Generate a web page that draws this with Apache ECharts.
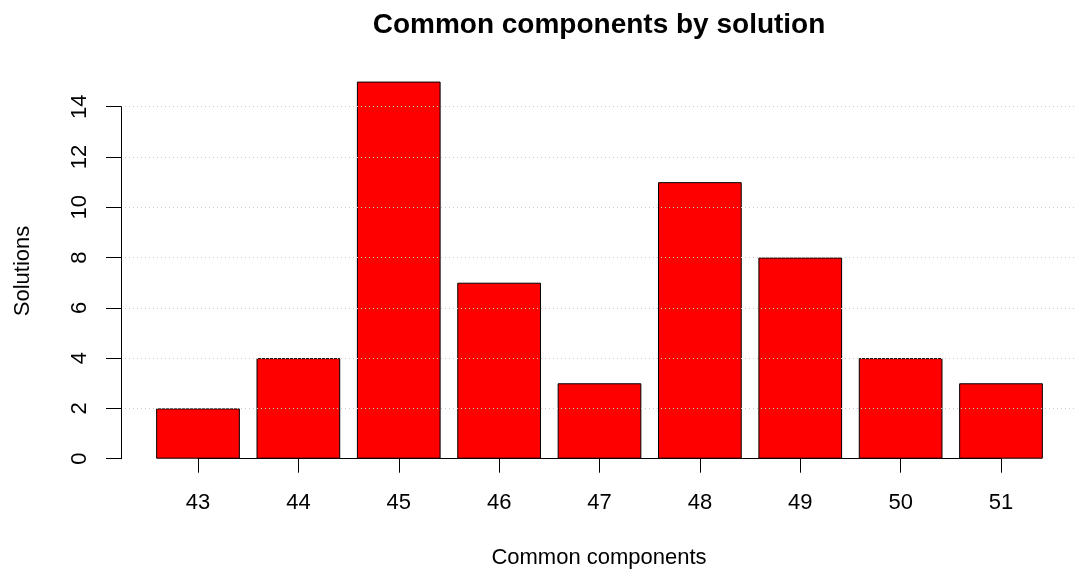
<!DOCTYPE html>
<html>
<head>
<meta charset="utf-8">
<script src="https://cdn.jsdelivr.net/npm/echarts@6/dist/echarts.min.js"></script>
<style>
html,body{margin:0;padding:0;background:#fff;}
#chart{width:1074px;height:572px;}
</style>
</head>
<body>
<div id="chart"></div>
<script>
const categories = ['43', '44', '45', '46', '47', '48', '49', '50', '51'];
const solutions = [2, 4, 15, 7, 3, 11, 8, 4, 3];
const yMin = 0;
const yMax = 14;
const yInterval = 2;
const titleText = 'Common components by solution';
const xName = 'Common components';
const yName = 'Solutions';

const FONT = '"Liberation Sans", Arial, Helvetica, sans-serif';
const chart = echarts.init(document.getElementById('chart'), null, {renderer: 'canvas'});

const option = {
  animation: false,
  backgroundColor: '#ffffff',
  grid: [
    {left: 121, right: 0, top: 106.7, bottom: 113.3},
    {left: 198, right: 73, top: 66.5, bottom: 113.3}
  ],
  xAxis: [
    {type: 'value', gridIndex: 0, show: false, min: 0, max: 1},
    {
      type: 'category', gridIndex: 1, data: categories, boundaryGap: false,
      axisLine: {show: true, lineStyle: {color: '#000', width: 1}},
      axisTick: {show: true, length: 14, lineStyle: {color: '#000', width: 1}},
      axisLabel: {show: true, color: '#000', fontSize: 22, fontFamily: FONT, margin: 33, interval: 0},
      splitLine: {show: false}
    }
  ],
  yAxis: [
    {
      type: 'value', gridIndex: 0, min: yMin, max: yMax, interval: yInterval, z: 10,
      axisLine: {show: true, lineStyle: {color: '#000', width: 1}},
      axisTick: {show: true, length: 15, lineStyle: {color: '#000', width: 1}},
      axisLabel: {show: true, color: '#000', fontSize: 22, fontFamily: FONT, rotate: 90, margin: 30},
      splitLine: {show: true, showMinLine: false, lineStyle: {color: '#cccccc', width: 1, type: [1, 3]}}
    },
    {type: 'value', gridIndex: 1, min: 0, max: 15.6, show: false, splitLine: {show: false}}
  ],
  series: [{
    type: 'bar',
    xAxisIndex: 1,
    yAxisIndex: 1,
    data: solutions,
    barWidth: '83.4%',
    clip: false,
    itemStyle: {color: '#ff0000', borderColor: '#000', borderWidth: 1}
  }],
  graphic: [
    {type: 'text', x: 599, y: 25, style: {text: titleText, font: 'bold 28px ' + FONT, fill: '#000', align: 'center', verticalAlign: 'middle'}},
    {type: 'text', x: 599, y: 558, style: {text: xName, font: '22px ' + FONT, fill: '#000', align: 'center', verticalAlign: 'middle'}},
    {type: 'text', x: 23, y: 271, rotation: Math.PI / 2, style: {text: yName, font: '22px ' + FONT, fill: '#000', align: 'center', verticalAlign: 'middle'}}
  ]
};
chart.setOption(option);
</script>
</body>
</html>
